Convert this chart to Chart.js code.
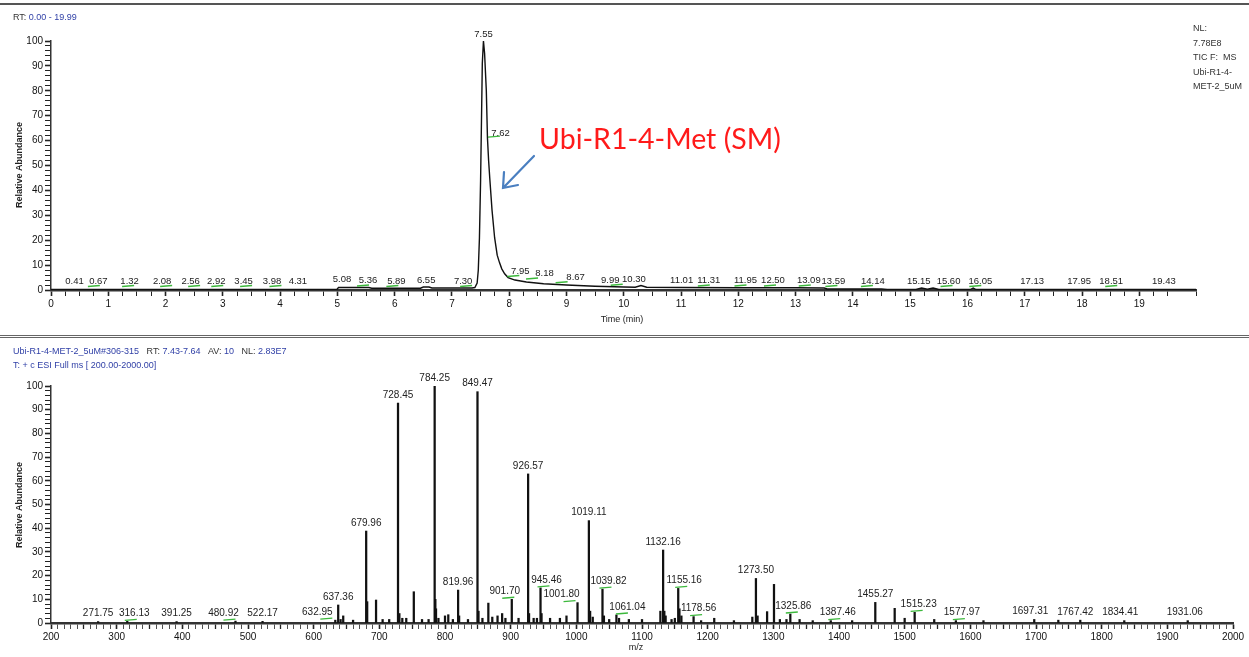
<!DOCTYPE html>
<html>
<head>
<meta charset="utf-8">
<script src="https://cdn.jsdelivr.net/npm/chart.js@4.4.1/dist/chart.umd.min.js"></script>
<style>
  body { margin: 0; background: #fff; width: 1249px; height: 657px; overflow: hidden; position: relative; }
  canvas { position: absolute; left: 0; }
  .sep { position: absolute; left: 0; width: 1249px; }
</style>
</head>
<body>
<div class="sep" style="top:3px;height:0;border-top:2px solid #555;"></div>
<div class="sep" style="top:335px;height:1px;border-top:1px solid #666;border-bottom:1px solid #666;"></div>
<canvas id="tic" width="1249" height="330" style="top:0"></canvas>
<canvas id="spec" width="1249" height="320" style="top:337px"></canvas>
<script>
// chromatogram (TIC)
const rtTimes = [0, 4.99, 5.02, 5.55, 5.6, 6.45, 6.5, 6.6, 6.65, 7.35, 7.40, 7.44, 7.46, 7.48, 7.50, 7.52, 7.53, 7.55, 7.57, 7.60, 7.62, 7.64, 7.66, 7.70, 7.745, 7.79, 7.83, 7.87, 7.92, 7.98, 8.1, 8.3, 8.6, 9.0, 9.5, 10.0, 10.2, 10.3, 10.4, 11.0, 12.0, 13.0, 13.5, 13.55, 14.5, 14.6, 15.1, 15.2, 15.3, 15.4, 15.5, 16.05, 16.1, 16.15, 19.99];
const ticVals = [0.2, 0.2, 1.0, 1.0, 0.7, 0.7, 1.2, 1.2, 0.8, 0.8, 1.0, 2.8, 8, 21, 44, 75, 91, 100, 95, 80, 61, 52, 45, 32, 21, 14, 11, 8.5, 6.5, 5, 4, 3.2, 2.5, 2.0, 1.5, 1.2, 1.1, 1.8, 1.1, 1.0, 0.9, 0.9, 0.8, 0.4, 0.4, 0.2, 0.2, 0.8, 0.3, 0.8, 0.2, 0.2, 0.8, 0.2, 0.2];
const rtPeaks = [0.41, 0.67, 1.32, 2.08, 2.56, 2.92, 3.45, 3.98, 4.31, 5.08, 5.36, 5.89, 6.55, 7.30, 7.55, 7.62, 7.95, 8.18, 8.67, 9.99, 10.30, 11.01, 11.31, 11.95, 12.50, 13.09, 13.59, 14.14, 15.15, 15.60, 16.05, 17.13, 17.95, 18.51, 19.43];
const rtPeakVals = [1, 1, 1, 1, 1, 1, 1, 1, 1, 1.6, 1.2, 1, 1.2, 1, 100, 61, 5, 4, 2.5, 1.5, 1.8, 1.2, 1.2, 1.2, 1.2, 1.2, 1, 1, 1, 1, 1, 1, 1, 1, 1];
const rtMarked = [0.67, 1.32, 2.08, 2.56, 2.92, 3.45, 3.98, 5.36, 5.89, 7.30, 7.62, 7.95, 8.18, 8.67, 9.99, 11.31, 11.95, 12.50, 13.09, 13.59, 14.14, 15.60, 16.05, 18.51];

// mass spectrum
const mzValues = [271.75, 316.13, 391.25, 480.92, 522.17, 632.95, 637.36, 641, 645, 660, 679.96, 681.5, 695, 705, 715, 728.45, 730.5, 735, 741, 752.5, 765, 775, 784.25, 785.3, 786.3, 790, 800, 805, 812, 819.96, 821.5, 835, 849.47, 851, 857, 866, 872, 880, 887, 892, 901.70, 912, 926.57, 928, 935, 940, 945.46, 947, 960, 975, 985, 1001.80, 1019.11, 1021, 1025, 1039.82, 1042, 1050, 1061.04, 1065, 1080, 1100, 1128, 1132.16, 1134, 1136, 1145, 1150, 1155.16, 1157, 1160, 1178.56, 1190, 1210, 1240, 1268, 1273.50, 1276, 1290.5, 1301, 1310, 1320, 1325.86, 1340, 1360, 1387.46, 1420, 1455.27, 1484.8, 1500, 1515.23, 1545, 1577.97, 1620, 1697.31, 1734, 1767.42, 1834.41, 1931.06];
const mzInts = [0.6, 0.7, 0.6, 0.8, 0.7, 1.2, 7.6, 1.5, 3, 1.2, 38.8, 9, 9.7, 1.5, 1.5, 92.8, 4, 2, 2, 13.2, 1.5, 1.5, 100, 10, 6, 2, 3, 3.5, 1.5, 13.9, 3, 1.5, 97.6, 5, 2, 8.4, 2.5, 3, 4, 2, 10, 2, 62.9, 4, 2, 2, 14.8, 4, 2, 2, 3, 8.6, 43.2, 5, 2.5, 14.3, 3, 1.5, 3.4, 2, 1.5, 1.5, 5, 30.8, 5, 3, 1.5, 2, 14.6, 6, 3, 2.7, 1, 2, 1, 2.5, 18.8, 3, 4.8, 16.3, 1.5, 1.5, 3.8, 1.5, 1, 1, 1, 8.7, 6.2, 2, 4.5, 1.5, 1, 1, 1.5, 1.2, 1.2, 1, 1];
const mzLabels = [271.75, 316.13, 391.25, 480.92, 522.17, 632.95, 637.36, 679.96, 728.45, 784.25, 819.96, 849.47, 901.70, 926.57, 945.46, 1001.80, 1019.11, 1039.82, 1061.04, 1132.16, 1155.16, 1178.56, 1273.50, 1325.86, 1387.46, 1455.27, 1515.23, 1577.97, 1697.31, 1767.42, 1834.41, 1931.06];
const mzMarked = [316.13, 480.92, 632.95, 901.70, 945.46, 1001.80, 1039.82, 1061.04, 1155.16, 1178.56, 1325.86, 1387.46, 1515.23, 1577.97];

const FONT = "'Liberation Sans', Arial, sans-serif";
const isInt = v => Math.abs(v - Math.round(v)) < 1e-6;
// label text nudges in px [dx, dy], the instrument software moves them apart
const nudge = {
  '0.67': [9, 0], '1.32': [3, 0], '2.08': [-8, 0], '2.56': [-7, 0], '2.92': [-2, 0], '3.45': [-5, 0], '3.98': [-7, 0],
  '5.36': [10, 0], '5.89': [8, 0], '7.30': [-6, 0], '7.62': [13, 2], '7.95': [14, 0], '8.18': [25, 0],
  '8.67': [28, 0], '9.99': [-13, 0], '10.30': [-7, 0], '11.31': [10, 0], '11.95': [10, 0], '12.50': [6, 0],
  '13.09': [8, 0], '13.59': [4, 0], '14.14': [12, 0], '15.60': [4, 0], '16.05': [10, 0],
  '316.13': [7, 0], '480.92': [-12, 0], '632.95': [-18, 0], '901.70': [-7, 0], '945.46': [6, 0],
  '1001.80': [-16, 0], '1039.82': [6, 0], '1061.04': [11, 0], '1155.16': [6, 0], '1178.56': [5, 0],
  '1325.86': [3, 0], '1387.46': [7, 0], '1515.23': [4, 0], '1577.97': [6, 0],
  '1697.31': [-4, 0], '1767.42': [-5, 0], '1834.41': [-4, 0], '1931.06': [-3, 0]
};

function segText(ctx, x, y, parts) {
  parts.forEach(p => {
    ctx.fillStyle = p[1];
    ctx.fillText(p[0], x, y);
    x += ctx.measureText(p[0]).width;
  });
}

function peakLabels(chart, xs, ys, marked, size, gap) {
  const ctx = chart.ctx;
  const sx = chart.scales.x, sy = chart.scales.y;
  ctx.save();
  ctx.font = size + 'px ' + FONT;
  ctx.textAlign = 'center';
  ctx.textBaseline = 'bottom';
  xs.forEach((v, i) => {
    const txt = v.toFixed(2);
    const d = nudge[txt] || [0, 0];
    const px = sx.getPixelForValue(v), py = sy.getPixelForValue(ys[i]);
    if (marked.indexOf(v) >= 0) {
      ctx.strokeStyle = '#3cb83c';
      ctx.lineWidth = 1.4;
      ctx.beginPath();
      ctx.moveTo(px - 6 + d[0] * 0.5, py - 1);
      ctx.lineTo(px + 6 + d[0] * 0.5, py - 2);
      ctx.stroke();
    }
    ctx.fillStyle = '#222';
    ctx.fillText(txt, px + d[0], py - gap + d[1]);
  });
  ctx.restore();
}

function axisOpts(min, max, step, width) {
  return {
    type: 'linear', min: min, max: max, offset: false,
    border: { color: '#333', width: width },
    grid: { drawOnChartArea: false, offset: false, tickLength: 6, tickColor: '#222' },
    ticks: { stepSize: step, autoSkip: false, maxRotation: 0, padding: 2, color: '#111', font: { size: 10, family: FONT } }
  };
}

// top chart
const xTop = axisOpts(0, 19.99, 0.25, 2.5);
xTop.ticks.callback = v => isInt(v) ? String(Math.round(v)) : '';
xTop.grid.tickWidth = c => isInt(c.tick.value) ? 1.6 : 1;
xTop.afterFit = s => { s.height = 40; };
const yTop = axisOpts(0, 100, 2, 1.5);
yTop.ticks.callback = v => (v % 10 === 0) ? String(v) : '';
yTop.grid.tickWidth = c => (c.tick.value % 10 === 0) ? 1.6 : 1;
yTop.afterFit = s => { s.width = 51; };

new Chart(document.getElementById('tic'), {
  type: 'line',
  data: {
    datasets: [{
      data: rtTimes.map((t, i) => ({ x: t, y: ticVals[i] })),
      borderColor: '#111', borderWidth: 1.4, pointRadius: 0, tension: 0, fill: false
    }]
  },
  options: {
    responsive: false, animation: false, events: [],
    layout: { padding: { top: 41, left: 0, right: 53, bottom: 0 } },
    plugins: { legend: { display: false }, tooltip: { enabled: false } },
    scales: { x: xTop, y: yTop }
  },
  plugins: [{
    id: 'ticText',
    afterDraw(chart) {
      const ctx = chart.ctx;
      peakLabels(chart, rtPeaks, rtPeakVals, rtMarked, 9.5, 1.5);
      ctx.save();
      ctx.textBaseline = 'middle';
      ctx.font = '9px ' + FONT;
      segText(ctx, 13, 18, [['RT: ', '#333'], ['0.00 - 19.99', '#2f3fa6']]);
      ctx.fillStyle = '#333';
      ['NL:', '7.78E8', 'TIC F:  MS', 'Ubi-R1-4-', 'MET-2_5uM'].forEach((s, i) => ctx.fillText(s, 1193, 29 + i * 14.5));
      ctx.textAlign = 'center';
      ctx.fillStyle = '#222';
      ctx.fillText('Time (min)', 622, 320);
      ctx.save();
      ctx.translate(20, 165);
      ctx.rotate(-Math.PI / 2);
      ctx.font = 'bold 9px ' + FONT;
      ctx.fillText('Relative Abundance', 0, 0);
      ctx.restore();
      // annotation
      ctx.textAlign = 'left';
      ctx.textBaseline = 'alphabetic';
      ctx.font = '28.5px Lato, "Open Sans", sans-serif';
      ctx.fillStyle = '#ff1a1a';
      ctx.fillText('Ubi-R1-4-Met (SM)', 539, 149);
      ctx.strokeStyle = '#4a7fc0';
      ctx.lineWidth = 2.2;
      ctx.lineCap = 'round';
      ctx.beginPath();
      ctx.moveTo(534, 156);
      ctx.lineTo(504, 187);
      ctx.moveTo(504, 172);
      ctx.lineTo(503, 188);
      ctx.lineTo(518, 185);
      ctx.stroke();
      ctx.restore();
    }
  }]
});

// bottom chart
const xBot = axisOpts(200, 2000, 10, 2.5);
xBot.ticks.callback = v => (v % 100 === 0) ? String(v) : '';
xBot.grid.tickWidth = c => (c.tick.value % 100 === 0) ? 1.6 : (c.tick.value % 50 === 0 ? 1.3 : 0.8);
xBot.afterFit = s => { s.height = 34; };
const yBot = axisOpts(0, 100, 2, 1.5);
yBot.ticks.callback = v => (v % 10 === 0) ? String(v) : '';
yBot.grid.tickWidth = c => (c.tick.value % 10 === 0) ? 1.6 : 1;
yBot.afterFit = s => { s.width = 51; };

new Chart(document.getElementById('spec'), {
  type: 'bar',
  data: {
    datasets: [{
      data: mzValues.map((m, i) => ({ x: m, y: mzInts[i] })),
      backgroundColor: '#111', borderWidth: 0, barThickness: 1.6, grouped: false
    }]
  },
  options: {
    responsive: false, animation: false, events: [],
    layout: { padding: { top: 49, left: 0, right: 16, bottom: 0 } },
    plugins: { legend: { display: false }, tooltip: { enabled: false } },
    scales: { x: xBot, y: yBot }
  },
  plugins: [{
    id: 'specText',
    afterDraw(chart) {
      const ctx = chart.ctx;
      peakLabels(chart, mzLabels, mzLabels.map(m => mzInts[mzValues.indexOf(m)]), mzMarked, 10, 3);
      ctx.save();
      ctx.textBaseline = 'middle';
      ctx.font = '9px ' + FONT;
      const blue = '#2f3fa6', dark = '#333';
      segText(ctx, 13, 15, [['Ubi-R1-4-MET-2_5uM#306-315   ', blue], ['RT: ', dark], ['7.43-7.64   ', blue], ['AV: ', dark], ['10   ', blue], ['NL: ', dark], ['2.83E7', blue]]);
      segText(ctx, 13, 29, [['T: + c ESI Full ms [ 200.00-2000.00]', blue]]);
      ctx.textAlign = 'center';
      ctx.fillStyle = '#222';
      ctx.fillText('m/z', 636, 311);
      ctx.translate(20, 168);
      ctx.rotate(-Math.PI / 2);
      ctx.font = 'bold 9px ' + FONT;
      ctx.fillText('Relative Abundance', 0, 0);
      ctx.restore();
    }
  }]
});
</script>
</body>
</html>
